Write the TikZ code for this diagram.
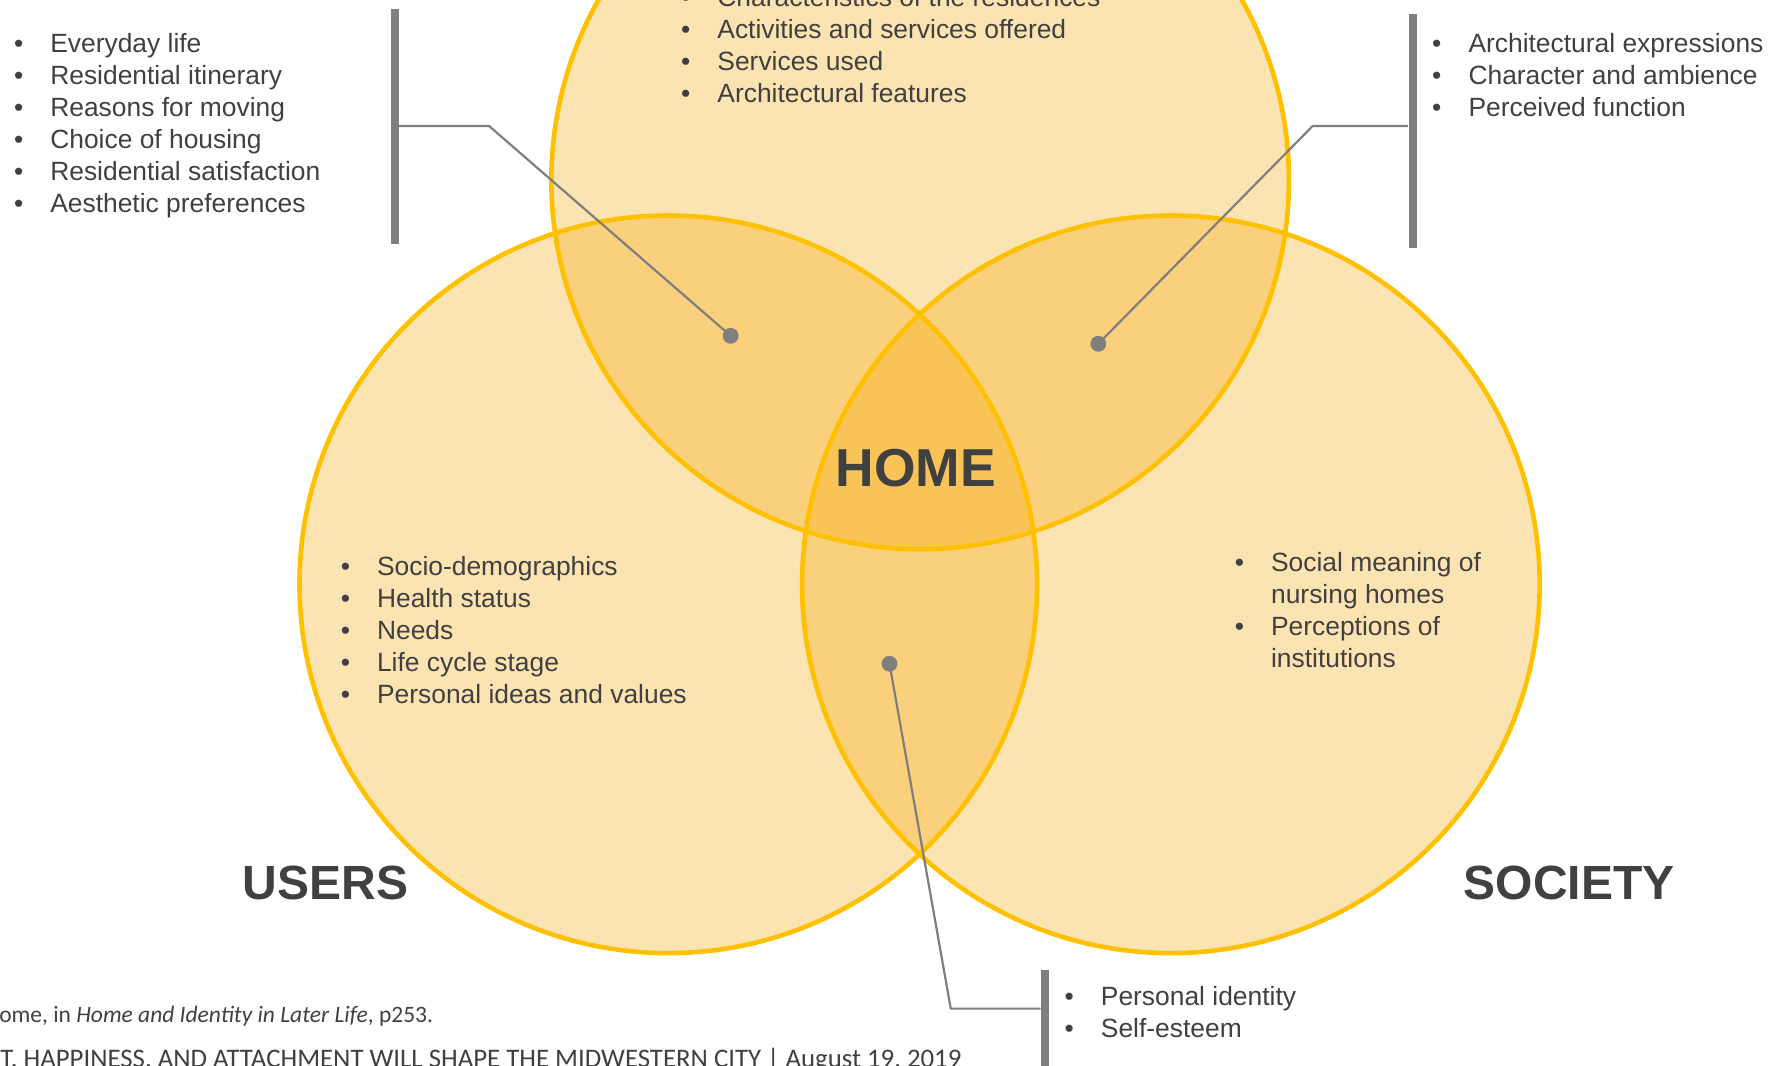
\documentclass[tikz,border=0pt]{standalone}
\usepackage{fontspec}
\setmainfont{Liberation Sans}
\newfontfamily\footfont{Carlito}
\usetikzlibrary{calc}
\definecolor{ringc}{HTML}{FFC000}
\definecolor{ringfill}{RGB}{245,166,5}
\definecolor{txtgray}{HTML}{404040}
\definecolor{linegray}{HTML}{7F7F7F}
\newcommand\bul[1]{\makebox[18.15pt][l]{•}#1}
\begin{document}
\begin{tikzpicture}[x=0.5673pt,y=-0.5673pt,
  txt/.style={anchor=base west, inner sep=0pt, text=txtgray, font=\fontsize{13.2}{16}\selectfont},
  big/.style={inner sep=0pt, text=txtgray, font=\bfseries\fontsize{24}{28}\selectfont},
  foot/.style={anchor=base west, inner sep=0pt, text=txtgray, font=\footfont\fontsize{11.75}{14}\selectfont},
  dotc/.style={circle, fill=linegray, inner sep=0pt, minimum size=7.9pt},
  bar/.style={fill=linegray, inner sep=0pt, minimum width=4pt},
  conn/.style={draw=linegray, line width=1.1pt},
  ringline/.style={draw=ringc, line width=2.3pt},
  ringbg/.style={fill=ringfill, fill opacity=0.31}]
\useasboundingbox (0,0) rectangle (1568,939);

% circles
\coordinate (cT) at (811,159);
\coordinate (cL) at (589,515);
\coordinate (cR) at (1032,515);
\fill[ringbg] (cT) circle[radius=184.4pt];
\fill[ringbg] (cL) circle[radius=184.4pt];
\fill[ringbg] (cR) circle[radius=184.4pt];
\draw[ringline] (cT) circle[radius=184.4pt];
\draw[ringline] (cL) circle[radius=184.4pt];
\draw[ringline] (cR) circle[radius=184.4pt];

% connectors
\node[bar, minimum height=117.4pt] (b1) at (348,111.5) {};
\node[dotc] (d1) at (644,296) {};
\coordinate (k1) at (431,111);
\draw[conn] (d1.center) -- (k1) -- (k1 -| b1.east);

\node[bar, minimum height=117.4pt] (b2) at (1245,115.5) {};
\node[dotc] (d2) at (968,303) {};
\coordinate (k2) at (1157,111);
\draw[conn] (d2.center) -- (k2) -- (k2 -| b2.west);

\node[bar, minimum height=51.1pt] (b3) at (921,900) {};
\node[dotc] (d3) at (784,585) {};
\coordinate (k3) at (838,889);
\draw[conn] (d3.center) -- (k3) -- (k3 -| b3.west);

% lists
\foreach \t [count=\i] in {Everyday life, Residential itinerary, Reasons for moving, Choice of housing, Residential satisfaction, Aesthetic preferences}
  \node[txt] (a\i) at (12,{46+(\i-1)*28.2}) {\bul{\t}};
\foreach \t [count=\i] in {Characteristics of the residences, Activities and services offered, Services used, Architectural features}
  \node[txt] (t\i) at (600,{6+(\i-1)*28.2}) {\bul{\t}};
\foreach \t [count=\i] in {Architectural expressions, Character and ambience, Perceived function}
  \node[txt] (r\i) at (1262,{46+(\i-1)*28.2}) {\bul{\t}};
\foreach \t [count=\i] in {Socio-demographics, Health status, Needs, Life cycle stage, Personal ideas and values}
  \node[txt] (u\i) at (300,{507+(\i-1)*28.2}) {\bul{\t}};
\node[txt] (s1) at (1088,504) {\bul{Social meaning of}};
\node[txt] (s2) at (1120,532.2) {nursing homes};
\node[txt] (s3) at (1088,560.4) {\bul{Perceptions of}};
\node[txt] (s4) at (1120,588.6) {institutions};
\foreach \t [count=\i] in {Personal identity, Self-esteem}
  \node[txt] (p\i) at (938,{886+(\i-1)*28.2}) {\bul{\t}};

% labels
\node[big, font=\bfseries\fontsize{26.7}{30}\selectfont] (home) at (807,413) {HOME};
\node[big] (users) at (287,778) {USERS};
\node[big] (society) at (1383,778) {SOCIETY};

% footer
\node[foot] (f1) at (-1,901) {ome, in \textit{Home and Identity in Later Life}, p253.};
\node[foot, font=\footfont\fontsize{13.4}{16}\selectfont] (f2) at (0,941) {T. HAPPINESS, AND ATTACHMENT WILL SHAPE THE MIDWESTERN CITY | August 19, 2019};
\end{tikzpicture}
\end{document}
